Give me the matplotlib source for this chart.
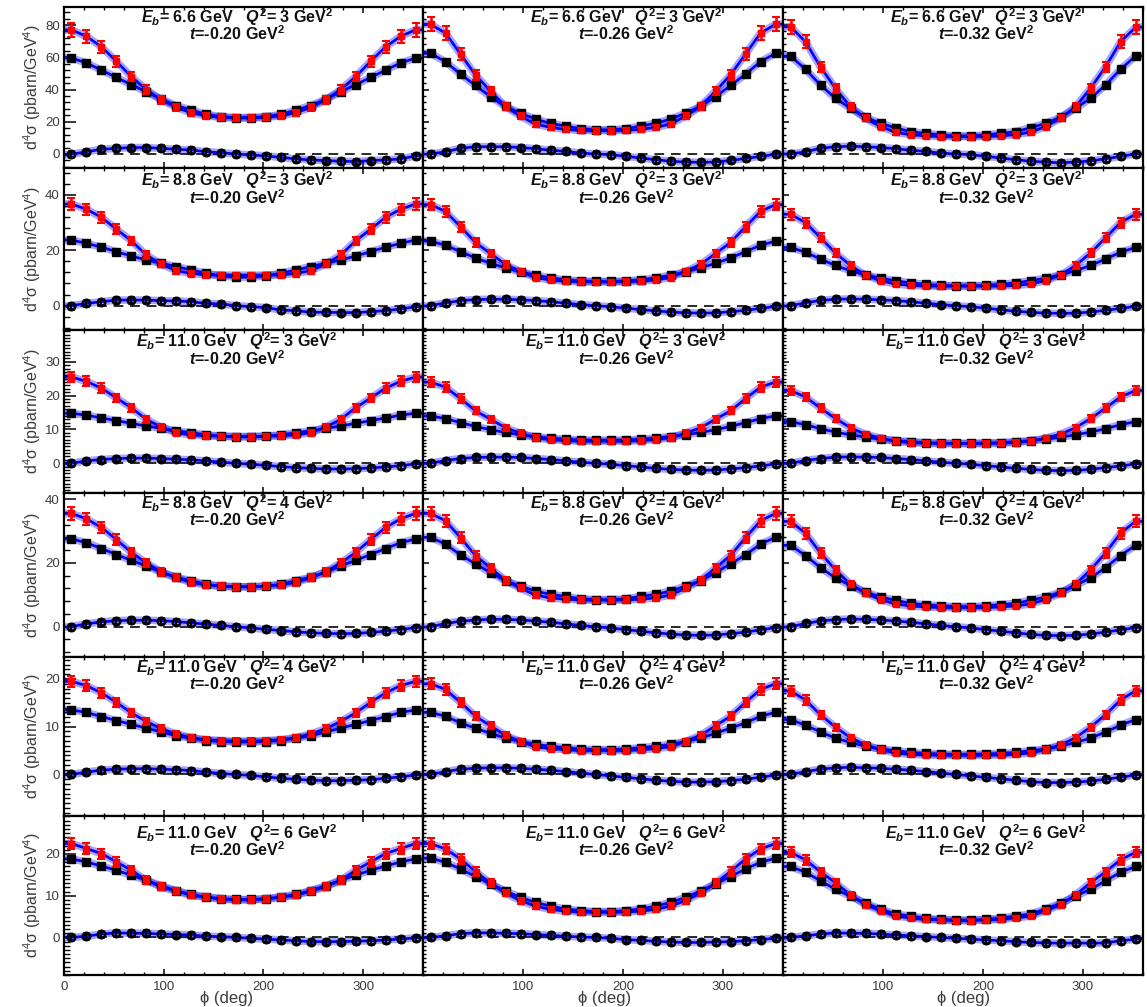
import matplotlib
matplotlib.use("Agg")
import matplotlib.pyplot as plt
from matplotlib.ticker import MultipleLocator, NullFormatter

plt.rcParams['font.family'] = ['Liberation Sans', 'DejaVu Sans']
plt.rcParams['mathtext.fontset'] = 'custom'
plt.rcParams['mathtext.rm'] = 'Liberation Sans:bold'
plt.rcParams['mathtext.it'] = 'Liberation Sans:bold:italic'
plt.rcParams['mathtext.bf'] = 'Liberation Sans:bold'

# ---------------- data ----------------
phi = [7.5, 22.5, 37.5, 52.5, 67.5, 82.5, 97.5, 112.5, 127.5, 142.5, 157.5, 172.5,
       187.5, 202.5, 217.5, 232.5, 247.5, 262.5, 277.5, 292.5, 307.5, 322.5, 337.5, 352.5]

beam_energy = ['6.6', '8.8', '11.0', '8.8', '11.0', '11.0']
q2_values = ['3', '3', '3', '4', '4', '6']
t_values = ['-0.20', '-0.26', '-0.32']

# row 1: Eb = 6.6 GeV, Q2 = 3 GeV2
red_r1c1 = [77.0, 73.0, 66.5, 57.5, 48.0, 40.0, 33.5, 29.0, 25.5, 23.7, 22.7, 22.3, 22.3, 22.7, 23.7, 25.5, 29.0, 33.5, 40.0, 48.0, 57.5, 66.5, 73.0, 77.0]
sq_r1c1 = [59.5, 56.5, 52.0, 47.5, 43.0, 38.5, 34.0, 30.0, 27.3, 24.5, 23.2, 22.6, 22.6, 23.2, 24.5, 27.3, 30.0, 34.0, 38.5, 43.0, 47.5, 52.0, 56.5, 59.5]
circ_r1c1 = [-0.2, 1.4, 2.9, 3.5, 4.0, 4.0, 3.5, 2.9, 2.5, 1.4, 0.8, 0.0, -0.6, -1.2, -2.1, -3.1, -3.7, -4.1, -4.5, -4.7, -4.1, -3.7, -3.1, -1.2]
red_r1c2 = [80.5, 75.0, 62.0, 49.0, 39.0, 29.5, 23.4, 18.5, 16.5, 15.2, 14.6, 14.5, 14.5, 14.6, 15.2, 16.5, 18.5, 23.4, 29.5, 39.0, 49.0, 62.0, 75.0, 80.5]
sq_r1c2 = [62.4, 57.3, 49.5, 42.5, 35.5, 29.5, 25.3, 21.7, 19.0, 17.4, 15.6, 15.0, 15.0, 15.6, 17.4, 19.0, 21.7, 25.3, 29.5, 35.5, 42.5, 49.5, 57.3, 62.4]
circ_r1c2 = [0.0, 1.4, 3.5, 4.5, 4.5, 4.5, 4.0, 3.3, 2.3, 1.6, 0.6, 0.0, -0.4, -1.4, -2.5, -3.5, -4.5, -5.0, -5.2, -5.0, -4.0, -2.8, -1.5, -0.2]
red_r1c3 = [79.0, 69.6, 54.0, 40.7, 29.3, 22.1, 17.0, 13.4, 12.0, 11.2, 10.8, 10.8, 10.8, 10.8, 11.2, 12.0, 13.4, 17.0, 22.1, 29.3, 40.7, 54.0, 69.6, 78.5]
sq_r1c3 = [60.8, 52.5, 42.8, 34.5, 28.3, 22.7, 19.0, 16.3, 13.8, 12.8, 11.8, 11.2, 11.2, 11.8, 12.8, 13.8, 16.3, 19.0, 22.7, 28.3, 34.5, 42.8, 52.5, 60.8]
circ_r1c3 = [0.0, 1.4, 3.5, 4.5, 4.8, 4.5, 4.0, 3.3, 2.3, 1.6, 0.6, 0.0, -0.4, -1.4, -2.5, -3.5, -4.5, -5.0, -5.5, -5.0, -4.3, -3.0, -1.5, 0.0]

# row 2: Eb = 8.8 GeV, Q2 = 3 GeV2
red_r2c1 = [36.7, 34.8, 31.9, 27.6, 23.4, 18.3, 15.0, 12.6, 11.6, 11.1, 11.0, 11.0, 11.0, 11.0, 11.1, 11.6, 12.6, 15.0, 18.3, 23.4, 27.6, 31.9, 34.8, 36.7]
sq_r2c1 = [23.7, 22.5, 21.1, 19.5, 17.9, 16.5, 15.3, 14.1, 12.9, 11.7, 10.7, 10.3, 10.3, 10.7, 11.7, 12.9, 14.1, 15.3, 16.5, 17.9, 19.5, 21.1, 22.5, 23.7]
circ_r2c1 = [0.0, 0.8, 1.4, 2.0, 2.0, 2.0, 1.8, 1.7, 1.4, 0.8, 0.6, 0.0, -0.4, -0.7, -1.6, -1.8, -2.4, -2.4, -2.5, -2.5, -2.2, -1.8, -1.2, -0.4]
red_r2c2 = [36.5, 34.0, 28.5, 22.8, 18.8, 14.9, 12.3, 10.1, 9.3, 8.8, 8.6, 8.5, 8.5, 8.6, 8.8, 9.3, 10.1, 12.3, 14.9, 18.8, 22.8, 28.5, 34.0, 36.5]
sq_r2c2 = [23.3, 21.8, 19.5, 17.2, 15.3, 13.6, 12.2, 11.0, 10.0, 9.3, 8.9, 8.8, 8.8, 8.9, 9.3, 10.0, 11.0, 12.2, 13.6, 15.3, 17.2, 19.5, 21.8, 23.3]
circ_r2c2 = [0.0, 1.0, 1.8, 2.2, 2.3, 2.3, 2.1, 1.8, 1.4, 0.9, 0.4, 0.0, -0.4, -0.9, -1.4, -1.9, -2.3, -2.6, -2.7, -2.6, -2.2, -1.7, -1.0, -0.3]
red_r2c3 = [33.0, 30.0, 24.5, 19.0, 14.5, 11.0, 9.0, 7.8, 7.3, 7.1, 7.0, 7.0, 7.0, 7.0, 7.1, 7.3, 7.8, 9.0, 11.0, 14.5, 19.0, 24.5, 30.0, 33.0]
sq_r2c3 = [21.0, 19.3, 16.8, 14.5, 12.6, 11.1, 9.9, 9.0, 8.2, 7.7, 7.3, 7.2, 7.2, 7.3, 7.7, 8.2, 9.0, 9.9, 11.1, 12.6, 14.5, 16.8, 19.3, 21.0]
circ_r2c3 = [0.0, 1.0, 1.9, 2.3, 2.4, 2.3, 2.1, 1.8, 1.4, 0.9, 0.4, 0.0, -0.4, -0.9, -1.5, -2.0, -2.4, -2.7, -2.8, -2.7, -2.3, -1.7, -1.0, -0.3]

# row 3: Eb = 11.0 GeV, Q2 = 3 GeV2
red_r3c1 = [25.5, 24.2, 22.2, 19.3, 16.4, 13.0, 10.7, 9.0, 8.4, 8.1, 8.0, 7.9, 7.9, 8.0, 8.1, 8.4, 9.0, 10.7, 13.0, 16.4, 19.3, 22.2, 24.2, 25.5]
sq_r3c1 = [14.8, 14.2, 13.4, 12.6, 11.8, 11.0, 10.3, 9.6, 9.0, 8.4, 8.0, 7.8, 7.8, 8.0, 8.4, 9.0, 9.6, 10.3, 11.0, 11.8, 12.6, 13.4, 14.2, 14.8]
circ_r3c1 = [0.0, 0.7, 1.1, 1.4, 1.5, 1.5, 1.4, 1.2, 1.0, 0.7, 0.3, 0.0, -0.3, -0.6, -1.0, -1.3, -1.5, -1.7, -1.7, -1.6, -1.4, -1.1, -0.7, -0.2]
red_r3c2 = [24.0, 22.5, 19.1, 15.5, 13.0, 10.5, 8.9, 7.5, 7.0, 6.7, 6.5, 6.5, 6.5, 6.5, 6.7, 7.0, 7.5, 8.9, 10.5, 13.0, 15.5, 19.1, 22.5, 24.0]
sq_r3c2 = [14.0, 13.2, 12.0, 10.9, 9.9, 9.1, 8.4, 7.9, 7.4, 7.1, 6.9, 6.8, 6.8, 6.9, 7.1, 7.4, 7.9, 8.4, 9.1, 9.9, 10.9, 12.0, 13.2, 14.0]
circ_r3c2 = [0.0, 0.8, 1.4, 1.7, 1.8, 1.8, 1.7, 1.4, 1.1, 0.7, 0.3, 0.0, -0.3, -0.7, -1.1, -1.5, -1.8, -2.0, -2.1, -2.0, -1.7, -1.3, -0.8, -0.2]
red_r3c3 = [21.5, 19.6, 16.3, 13.2, 10.5, 8.6, 7.4, 6.5, 6.1, 5.9, 5.8, 5.8, 5.8, 5.8, 5.9, 6.1, 6.5, 7.4, 8.6, 10.5, 13.2, 16.3, 19.6, 21.5]
sq_r3c3 = [12.3, 11.4, 10.2, 9.2, 8.4, 7.7, 7.1, 6.7, 6.4, 6.1, 6.0, 5.9, 5.9, 6.0, 6.1, 6.4, 6.7, 7.1, 7.7, 8.4, 9.2, 10.2, 11.4, 12.3]
circ_r3c3 = [0.0, 0.8, 1.4, 1.8, 1.9, 1.8, 1.7, 1.4, 1.1, 0.7, 0.3, 0.0, -0.3, -0.7, -1.1, -1.5, -1.8, -2.1, -2.2, -2.1, -1.8, -1.3, -0.8, -0.2]

# row 4: Eb = 8.8 GeV, Q2 = 4 GeV2
red_r4c1 = [35.5, 33.8, 31.1, 27.3, 23.3, 20.0, 17.2, 15.3, 13.9, 13.1, 12.7, 12.5, 12.5, 12.7, 13.1, 13.9, 15.3, 17.2, 20.0, 23.3, 27.3, 31.1, 33.8, 35.5]
sq_r4c1 = [27.5, 26.3, 24.5, 22.6, 20.8, 19.0, 17.1, 15.5, 14.4, 13.3, 12.7, 12.5, 12.5, 12.7, 13.3, 14.4, 15.5, 17.1, 19.0, 20.8, 22.6, 24.5, 26.3, 27.5]
circ_r4c1 = [0.0, 0.9, 1.5, 1.9, 2.0, 2.0, 1.9, 1.6, 1.2, 0.8, 0.4, 0.0, -0.4, -0.8, -1.2, -1.6, -1.9, -2.1, -2.2, -2.1, -1.8, -1.4, -0.9, -0.3]
red_r4c2 = [35.5, 33.2, 27.9, 22.3, 18.4, 14.5, 12.0, 9.9, 9.0, 8.6, 8.4, 8.3, 8.3, 8.4, 8.6, 9.0, 9.9, 12.0, 14.5, 18.4, 22.3, 27.9, 33.2, 35.5]
sq_r4c2 = [28.0, 25.9, 22.5, 19.7, 16.9, 14.4, 12.7, 11.2, 10.1, 9.5, 8.7, 8.5, 8.5, 8.7, 9.5, 10.1, 11.2, 12.7, 14.4, 16.9, 19.7, 22.5, 25.9, 28.0]
circ_r4c2 = [0.0, 1.0, 1.7, 2.1, 2.3, 2.3, 2.1, 1.8, 1.4, 0.9, 0.4, 0.0, -0.4, -0.9, -1.4, -1.9, -2.3, -2.6, -2.7, -2.6, -2.2, -1.7, -1.0, -0.3]
red_r4c3 = [33.0, 29.3, 23.1, 17.8, 13.3, 10.5, 8.5, 7.1, 6.5, 6.2, 6.0, 6.0, 6.0, 6.0, 6.2, 6.5, 7.1, 8.5, 10.5, 13.3, 17.8, 23.1, 29.3, 33.0]
sq_r4c3 = [25.5, 22.3, 18.5, 15.3, 12.9, 10.8, 9.3, 8.3, 7.3, 6.9, 6.5, 6.3, 6.3, 6.5, 6.9, 7.3, 8.3, 9.3, 10.8, 12.9, 15.3, 18.5, 22.3, 25.5]
circ_r4c3 = [0.0, 1.0, 1.8, 2.2, 2.4, 2.3, 2.1, 1.8, 1.4, 0.9, 0.4, 0.0, -0.4, -0.9, -1.4, -1.9, -2.4, -2.7, -2.8, -2.7, -2.3, -1.7, -1.0, -0.3]

# row 5: Eb = 11.0 GeV, Q2 = 4 GeV2
red_r5c1 = [19.5, 18.6, 17.1, 15.1, 12.9, 11.1, 9.6, 8.5, 7.7, 7.3, 7.1, 7.0, 7.0, 7.1, 7.3, 7.7, 8.5, 9.6, 11.1, 12.9, 15.1, 17.1, 18.6, 19.5]
sq_r5c1 = [13.5, 13.0, 12.1, 11.3, 10.5, 9.7, 8.9, 8.1, 7.6, 7.1, 6.9, 6.8, 6.8, 6.9, 7.1, 7.6, 8.1, 8.9, 9.7, 10.5, 11.3, 12.1, 13.0, 13.5]
circ_r5c1 = [0.0, 0.5, 0.9, 1.1, 1.2, 1.2, 1.1, 1.0, 0.8, 0.5, 0.2, 0.0, -0.2, -0.5, -0.8, -1.0, -1.2, -1.3, -1.3, -1.2, -1.1, -0.8, -0.5, -0.1]
red_r5c2 = [19.0, 17.8, 15.1, 12.2, 10.2, 8.2, 6.9, 5.8, 5.4, 5.2, 5.0, 5.0, 5.0, 5.0, 5.2, 5.4, 5.8, 6.9, 8.2, 10.2, 12.2, 15.1, 17.8, 19.0]
sq_r5c2 = [13.0, 12.2, 10.8, 9.7, 8.6, 7.6, 6.9, 6.3, 5.9, 5.6, 5.3, 5.2, 5.2, 5.3, 5.6, 5.9, 6.3, 6.9, 7.6, 8.6, 9.7, 10.8, 12.2, 13.0]
circ_r5c2 = [0.0, 0.6, 1.1, 1.3, 1.4, 1.4, 1.3, 1.1, 0.9, 0.6, 0.3, 0.0, -0.3, -0.6, -0.9, -1.2, -1.4, -1.6, -1.6, -1.5, -1.3, -1.0, -0.6, -0.1]
red_r5c3 = [17.5, 15.6, 12.5, 9.9, 7.7, 6.2, 5.2, 4.5, 4.2, 4.1, 4.0, 4.0, 4.0, 4.0, 4.1, 4.2, 4.5, 5.2, 6.2, 7.7, 9.9, 12.5, 15.6, 17.5]
sq_r5c3 = [11.5, 10.3, 8.9, 7.6, 6.7, 5.9, 5.3, 5.0, 4.6, 4.4, 4.3, 4.2, 4.2, 4.3, 4.4, 4.6, 5.0, 5.3, 5.9, 6.7, 7.6, 8.9, 10.3, 11.5]
circ_r5c3 = [0.0, 0.6, 1.1, 1.4, 1.5, 1.4, 1.3, 1.1, 0.9, 0.6, 0.3, 0.0, -0.3, -0.6, -0.9, -1.2, -1.5, -1.7, -1.7, -1.6, -1.4, -1.0, -0.6, -0.1]

# row 6: Eb = 11.0 GeV, Q2 = 6 GeV2
red_r6c1 = [22.5, 21.3, 20.1, 18.1, 16.1, 13.7, 12.1, 11.1, 10.1, 9.6, 9.2, 9.0, 9.0, 9.2, 9.6, 10.1, 11.1, 12.1, 13.7, 16.1, 18.1, 20.1, 21.3, 22.5]
sq_r6c1 = [18.8, 18.1, 17.1, 16.1, 14.9, 13.7, 12.4, 11.2, 10.3, 9.7, 9.3, 9.1, 9.1, 9.3, 9.7, 10.3, 11.2, 12.4, 13.7, 14.9, 16.1, 17.1, 18.1, 18.8]
circ_r6c1 = [0.0, 0.3, 0.8, 1.1, 1.0, 1.0, 0.8, 0.7, 0.6, 0.3, 0.2, 0.0, -0.2, -0.4, -0.6, -0.8, -1.0, -1.0, -1.0, -0.9, -0.8, -0.6, -0.4, -0.1]
red_r6c2 = [22.5, 21.2, 18.8, 15.8, 13.0, 10.6, 8.8, 7.5, 6.7, 6.3, 6.1, 6.0, 6.0, 6.1, 6.3, 6.7, 7.5, 8.8, 10.6, 13.0, 15.8, 18.8, 21.2, 22.5]
sq_r6c2 = [19.0, 18.0, 16.4, 14.6, 12.8, 11.1, 9.6, 8.4, 7.5, 6.8, 6.4, 6.2, 6.2, 6.4, 6.8, 7.5, 8.4, 9.6, 11.1, 12.8, 14.6, 16.4, 18.0, 19.0]
circ_r6c2 = [0.0, 0.4, 0.9, 1.1, 1.1, 1.0, 0.9, 0.7, 0.5, 0.3, 0.1, 0.0, -0.2, -0.5, -0.7, -0.9, -1.1, -1.2, -1.2, -1.1, -1.0, -0.8, -0.5, -0.2]
red_r6c3 = [20.4, 18.6, 15.7, 13.1, 10.2, 7.8, 6.4, 5.1, 4.7, 4.3, 4.2, 4.0, 4.0, 4.2, 4.3, 4.7, 5.1, 6.4, 7.8, 10.2, 13.1, 15.7, 18.6, 20.4]
sq_r6c3 = [17.0, 15.6, 13.6, 11.5, 9.9, 8.2, 6.8, 5.6, 5.1, 4.6, 4.3, 4.2, 4.2, 4.3, 4.6, 5.1, 5.6, 6.8, 8.2, 9.9, 11.5, 13.6, 15.6, 17.0]
circ_r6c3 = [0.0, 0.4, 0.8, 1.1, 1.0, 1.0, 0.8, 0.6, 0.4, 0.2, 0.0, -0.2, -0.4, -0.6, -0.8, -1.0, -1.2, -1.3, -1.4, -1.3, -1.4, -1.3, -0.8, -0.4]

red_series = [[red_r1c1, red_r1c2, red_r1c3], [red_r2c1, red_r2c2, red_r2c3],
              [red_r3c1, red_r3c2, red_r3c3], [red_r4c1, red_r4c2, red_r4c3],
              [red_r5c1, red_r5c2, red_r5c3], [red_r6c1, red_r6c2, red_r6c3]]
sq_series = [[sq_r1c1, sq_r1c2, sq_r1c3], [sq_r2c1, sq_r2c2, sq_r2c3],
             [sq_r3c1, sq_r3c2, sq_r3c3], [sq_r4c1, sq_r4c2, sq_r4c3],
             [sq_r5c1, sq_r5c2, sq_r5c3], [sq_r6c1, sq_r6c2, sq_r6c3]]
circ_series = [[circ_r1c1, circ_r1c2, circ_r1c3], [circ_r2c1, circ_r2c2, circ_r2c3],
               [circ_r3c1, circ_r3c2, circ_r3c3], [circ_r4c1, circ_r4c2, circ_r4c3],
               [circ_r5c1, circ_r5c2, circ_r5c3], [circ_r6c1, circ_r6c2, circ_r6c3]]

# relative uncertainties of the pseudo-data
red_rel_err = 0.045
sq_rel_err = 0.02

# ---------------- layout ----------------
row_ylim = [(-8.7, 91.2), (-8.8, 49.7), (-8.8, 39.4), (-9.5, 41.9), (-8.7, 24.6), (-9.0, 29.1)]
row_major = [20, 20, 10, 20, 10, 10]
row_minor = [4, 4, 1, 4, 1, 1]

W, H = 1147, 1007
col_px = [64, 423, 783, 1143]
row_px = [7, 168, 330, 493, 657, 816, 975]
text_off = [10, 12.5, 11.5, 10, 10, 17]
text_col_x = [237, 626, 986]

fig = plt.figure(figsize=(W / 100, H / 100), dpi=100)
fig.patch.set_facecolor('white')

label_color = '#3c3c3c'
blue = (0.0, 0.0, 1.0)


def wrapped(values):
    """Close the periodic phi series so the curve reaches both frame edges."""
    xs = [phi[-1] - 360.0] + list(phi) + [phi[0] + 360.0]
    ys = [values[-1]] + list(values) + [values[0]]
    return xs, ys


for r in range(6):
    ymin, ymax = row_ylim[r]
    span = ymax - ymin
    for c in range(3):
        x0, x1 = col_px[c], col_px[c + 1]
        y0, y1 = row_px[r], row_px[r + 1]
        ax = fig.add_axes([x0 / W, 1 - y1 / H, (x1 - x0) / W, (y1 - y0) / H])
        ax.set_xlim(0, 360)
        ax.set_ylim(ymin, ymax)

        ax.axhline(0, color='#2a2a2a', lw=1.4, ls=(0, (5, 3.5)), zorder=1)

        red = red_series[r][c]
        sq = sq_series[r][c]
        circ = circ_series[r][c]

        for vals in (red, sq, circ):
            xs, ys = wrapped(vals)
            ax.plot(xs, ys, color=blue, lw=5.5, alpha=0.35, zorder=2, solid_capstyle='butt')
            ax.plot(xs, ys, color=blue, lw=1.9, zorder=2.1)

        sq_err = [sq_rel_err * v + 0.006 * span for v in sq]
        circ_err = [0.018 * span for v in circ]
        red_err = [red_rel_err * v + 0.008 * span for v in red]

        ax.errorbar(phi, circ, yerr=circ_err, fmt='o', ms=5.4, mfc='none', mec='black',
                    mew=1.8, ecolor='black', elinewidth=1.5, capsize=2.0, capthick=1.3,
                    zorder=3)
        ax.errorbar(phi, sq, yerr=sq_err, fmt='s', ms=6, mfc='black', mec='black',
                    ecolor='black', elinewidth=1.6, capsize=2.5, capthick=1.4, zorder=3.2)
        ax.errorbar(phi, red, yerr=red_err, fmt='s', ms=4.6, mfc='red', mec='red',
                    ecolor='red', elinewidth=1.8, capsize=2.6, capthick=1.5, zorder=3.4)

        # axes styling
        for sp in ax.spines.values():
            sp.set_linewidth(1.6)
            sp.set_color('black')
        ax.xaxis.set_major_locator(MultipleLocator(100))
        ax.xaxis.set_minor_locator(MultipleLocator(20))
        ax.yaxis.set_major_locator(MultipleLocator(row_major[r]))
        ax.yaxis.set_minor_locator(MultipleLocator(row_minor[r]))
        ylen = (8.5, 4.3) if c == 0 else (4.3, 2.5)
        ax.tick_params(axis='y', which='major', direction='in', length=ylen[0], width=1.1,
                       left=True, right=False, labelsize=9.5, labelcolor=label_color, pad=3)
        ax.tick_params(axis='y', which='minor', direction='in', length=ylen[1], width=1.0,
                       left=True, right=False)
        ax.tick_params(axis='x', which='major', direction='in', length=4.3, width=1.1,
                       top=True, bottom=True, labelsize=9.5, labelcolor=label_color, pad=4)
        ax.tick_params(axis='x', which='minor', direction='in', length=2.3, width=1.0,
                       top=True, bottom=True)
        if c != 0:
            ax.yaxis.set_major_formatter(NullFormatter())
        if r != 5:
            ax.xaxis.set_major_formatter(NullFormatter())
        elif c != 0:
            ax.set_xticks([100, 200, 300])

        # kinematics label (two centred lines in one text block)
        tx = text_col_x[c] / W
        ty = 1 - (y0 + text_off[r] + 7.5) / H
        label = (r'$E_b$= ' + beam_energy[r] + r' GeV   $Q^2$= ' + q2_values[r] + r' GeV$^2$'
                 + '\n' + r'$t$=' + t_values[c] + r' GeV$^2$')
        fig.text(tx, ty, label, ha='center', va='center', multialignment='center',
                 linespacing=0.8, fontsize=11.6, fontweight='bold', color='#111111',
                 zorder=10)

    # y axis title for each row
    yc = 1 - (row_px[r] + row_px[r + 1]) / 2 / H
    fig.text(32 / W, yc, r'd$^{\mathregular{4}}$σ (pbarn/GeV$^{\mathregular{4}}$)',
             rotation=90, ha='center', va='center', fontsize=11.5, color=label_color)

# x axis titles
for xc in (227, 605, 964):
    fig.text(xc / W, 1 - 999 / H, 'ϕ (deg)', ha='center', va='center', fontsize=12,
             color=label_color)

fig.savefig('out.png', dpi=100, facecolor='white')
